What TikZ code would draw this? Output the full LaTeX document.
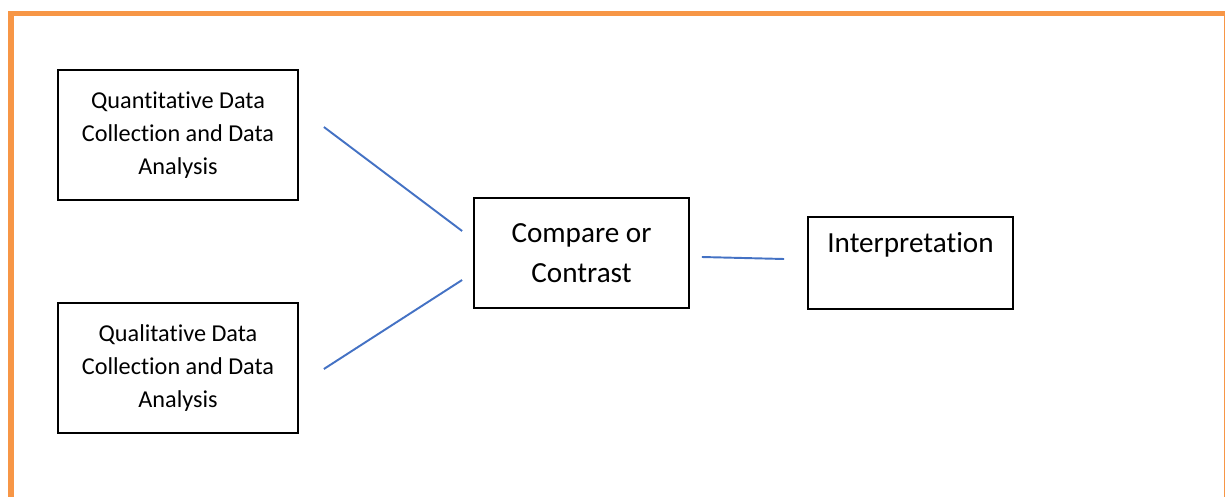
\documentclass[tikz,border=0pt]{standalone}
\usepackage{fontspec}
\setmainfont{Carlito}[Ligatures=NoCommon]
\usetikzlibrary{calc}
\definecolor{frameorange}{HTML}{F79646}
\definecolor{linkblue}{HTML}{4472C4}

\begin{document}
\begin{tikzpicture}[
  box/.style={draw, line width=1pt, align=center, inner sep=0pt,
              minimum width=4.8cm, minimum height=2.6cm,
              font=\fontsize{13.8}{18.8}\selectfont},
  bigbox/.style={box, font=\fontsize{16.6}{23.1}\selectfont},
  link/.style={draw=linkblue, line width=1.1pt},
  frame/.style={draw=frameorange, line width=0.1cm},
]
  \useasboundingbox (0,0) rectangle (24.5,9.92);
  \clip (0,0) rectangle (24.5,9.92);
  % --- outer frame ---
  \draw[frame] (0.22,-0.5) rectangle (24.52,9.64);
  % --- data strands ---
  \node[box] (quant) at (3.56,7.22)
    {Quantitative Data\\ Collection and Data\\ Analysis};
  \node[box] (qual) at (3.56,2.56)
    {Qualitative Data\\ Collection and Data\\ Analysis};
  % --- merging and result ---
  \node[bigbox, minimum width=4.3cm, minimum height=2.2cm] (cmp) at (11.63,4.86)
    {Compare or\\ Contrast};
  \node[bigbox, minimum width=4.1cm, minimum height=1.84cm] (interp) at (18.21,4.66)
    {Interpretation\\ \mbox{}};
  % --- connectors (free-standing, with gaps to the boxes) ---
  \draw[link] ([xshift=0.5cm,yshift=0.16cm]quant.east) -- ([xshift=-0.22cm,yshift=0.44cm]cmp.west);
  \draw[link] ([xshift=0.5cm,yshift=-0.02cm]qual.east) -- ([xshift=-0.22cm,yshift=-0.54cm]cmp.west);
  \draw[link] ([xshift=0.24cm,yshift=-0.08cm]cmp.east) -- ([xshift=-0.46cm,yshift=0.08cm]interp.west);
\end{tikzpicture}
\end{document}
